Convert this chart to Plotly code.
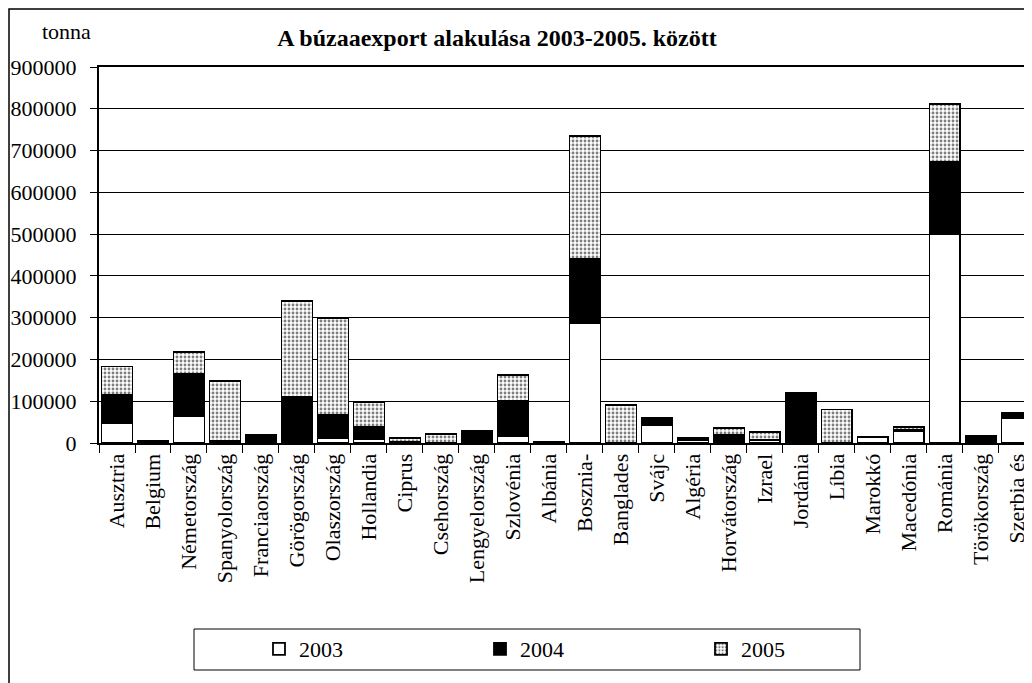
import plotly.graph_objects as go

countries = ["Ausztria", "Belgium", "Németország", "Spanyolország", "Franciaország",
             "Görögország", "Olaszország", "Hollandia", "Ciprus", "Csehország",
             "Lengyelország", "Szlovénia", "Albánia", "Bosznia-", "Banglades",
             "Svájc", "Algéria", "Horvátország", "Izrael", "Jordánia",
             "Líbia", "Marokkó", "Macedónia", "Románia", "Törökország", "Szerbia és"]

v2003 = [48000, 0, 65000, 4000, 0, 0, 12000, 10000, 3000, 0,
         0, 16000, 0, 288000, 0, 43000, 8000, 2000, 8000, 0,
         0, 15000, 29000, 501000, 0, 60000]
v2004 = [67000, 5000, 100000, 0, 20000, 110000, 56000, 29000, 0, 0,
         28000, 85000, 0, 153000, 0, 16000, 1000, 17000, 0, 120000,
         0, 0, 3000, 173000, 17000, 13000]
v2005 = [68000, 0, 53000, 145000, 0, 230000, 230000, 58000, 9000, 22000,
         0, 61000, 3000, 294000, 91000, 0, 4000, 17000, 18000, 0,
         80000, 0, 7000, 137000, 0, 0]

years = ["2003", "2004", "2005"]
yticks = [0, 100000, 200000, 300000, 400000, 500000, 600000, 700000, 800000, 900000]

FONT = "Liberation Serif"

fig = go.Figure()
fig.add_trace(go.Bar(x=countries, y=v2003, name=years[0],
                     marker=dict(color="white", line=dict(color="black", width=1.8))))
fig.add_trace(go.Bar(x=countries, y=v2004, name=years[1],
                     marker=dict(color="black", line=dict(color="black", width=1.8))))
fig.add_trace(go.Bar(x=countries, y=v2005, name=years[2],
                     marker=dict(color="white", line=dict(color="black", width=1.8),
                                 pattern=dict(shape=".", size=4, solidity=0.4,
                                              fgcolor="black", bgcolor="white"))))

# the page body has an 8px margin: work in page pixels and convert
OFF = 8
W, H = 1032 - OFF, 683 - OFF
L, R, T, B = 99 - OFF, 0, 67 - OFF, 683 - 443
pw = W - L - R
ph = H - T - B

def px_x(x):
    return (x - OFF - L) / pw

def px_y(y):
    return (H - B - (y - OFF)) / ph

fig.update_layout(
    width=W, height=H,
    margin=dict(l=L, r=R, t=T, b=B, pad=0),
    barmode="stack", bargap=0.14,
    plot_bgcolor="white", paper_bgcolor="white",
    font=dict(family=FONT, size=22, color="black"),
    title=dict(text="<b>A búzaaexport alakulása 2003-2005. között</b>",
               x=(497 - OFF) / W, xanchor="center", xref="container",
               y=1 - (38 - OFF) / H, yanchor="middle", yref="container",
               font=dict(family=FONT, size=24, color="black")),
    xaxis=dict(range=[-0.5, 25.42], showline=True, linecolor="black", linewidth=2,
               mirror=True, ticks="outside", tickson="boundaries", ticklen=8,
               tickcolor="black", tickwidth=1, tickangle=-90, showgrid=False,
               tickfont=dict(family=FONT, size=22)),
    yaxis=dict(range=[0, 900000], tickvals=yticks, ticktext=[str(v) for v in yticks],
               showline=True, linecolor="black", linewidth=2, ticks="outside",
               ticklen=7, tickcolor="black", showgrid=True, gridcolor="black",
               gridwidth=1, zeroline=False, ticklabelstandoff=9,
               tickfont=dict(family=FONT, size=22)),
    legend=dict(orientation="h", x=px_x(259), xanchor="left", y=px_y(649),
                yanchor="middle", bgcolor="rgba(0,0,0,0)", borderwidth=0,
                font=dict(family=FONT, size=22), itemwidth=30,
                entrywidth=176, entrywidthmode="pixels", traceorder="normal"),
    annotations=[dict(text="tonna", x=px_x(66), y=px_y(31), xref="paper", yref="paper",
                      xanchor="center", yanchor="middle", showarrow=False,
                      font=dict(family=FONT, size=22))],
    shapes=[
        dict(type="rect", xref="paper", yref="paper", x0=px_x(194), x1=px_x(860),
             y0=px_y(670), y1=px_y(629), line=dict(color="black", width=1)),
        dict(type="rect", xref="paper", yref="paper", x0=px_x(9), x1=px_x(1040),
             y0=px_y(690), y1=px_y(9), line=dict(color="black", width=1.5), layer="below"),
    ],
)

fig.write_html("out.html")
